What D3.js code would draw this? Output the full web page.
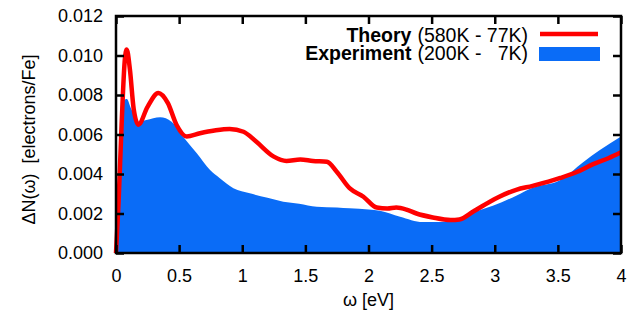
<!DOCTYPE html>
<html>
<head>
<meta charset="utf-8">
<script src="https://cdn.jsdelivr.net/npm/d3@7"></script>
<style>
  body { margin: 0; background: #fff; }
  svg text { font-family: "Liberation Sans", Arial, sans-serif; white-space: pre; }
</style>
</head>
<body>
<div id="chart"></div>
<script>
// Experiment (200K - 7K), filled area
const expX = [0, 0.01, 0.03, 0.06, 0.085, 0.12, 0.177, 0.24, 0.35, 0.44, 0.53, 0.64, 0.745, 0.82, 0.93, 1.06, 1.2, 1.325, 1.45, 1.59, 1.75, 1.85, 2.0, 2.09, 2.25, 2.43, 2.57, 2.72, 2.85, 2.99, 3.17, 3.3, 3.52, 3.7, 3.83, 4.0];
const expY = [0, 0.0015, 0.0050, 0.0077, 0.0078, 0.0073, 0.00665, 0.00673, 0.00687, 0.00665, 0.0059, 0.00505, 0.0042, 0.0038, 0.00328, 0.00302, 0.0028, 0.0026, 0.0025, 0.00234, 0.0023, 0.00226, 0.0022, 0.00214, 0.00184, 0.00157, 0.00157, 0.00177, 0.0021, 0.0024, 0.0029, 0.0033, 0.0037, 0.0046, 0.0052, 0.0059];

// Theory (580K - 77K), red line
const theoX = [0, 0.02, 0.045, 0.07, 0.085, 0.11, 0.14, 0.177, 0.25, 0.335, 0.41, 0.48, 0.56, 0.665, 0.78, 0.9, 1.01, 1.11, 1.25, 1.35, 1.46, 1.56, 1.67, 1.75, 1.85, 1.96, 2.065, 2.15, 2.22, 2.3, 2.38, 2.51, 2.65, 2.72, 2.83, 3.02, 3.17, 3.3, 3.52, 3.65, 3.78, 3.9, 4.0];
const theoY = [0, 0.0025, 0.0066, 0.0098, 0.0103, 0.0093, 0.0073, 0.0065, 0.0074, 0.0081, 0.0076, 0.00648, 0.0059, 0.00606, 0.0062, 0.00628, 0.00614, 0.00564, 0.00488, 0.00466, 0.00474, 0.00466, 0.00462, 0.0041, 0.00328, 0.00285, 0.0023, 0.00225, 0.0023, 0.0022, 0.002, 0.0018, 0.00167, 0.0017, 0.0021, 0.0028, 0.0032, 0.0034, 0.0038, 0.0041, 0.0045, 0.0048, 0.0051];

const xTicks = [0, 0.5, 1, 1.5, 2, 2.5, 3, 3.5, 4];
const yTicks = [0, 0.002, 0.004, 0.006, 0.008, 0.010, 0.012];

const legendRows = [
  { bold: 'Theory', rest: '(580K - 77K)' },
  { bold: 'Experiment', rest: '(200K -   7K)' },
];

const width = 638;
const height = 316;
const margin = { top: 16, right: 17, bottom: 63, left: 116 };
const blue = '#0a6cf7';
const red = '#ff0000';

const svg = d3.select('#chart')
  .append('svg')
  .attr('width', width)
  .attr('height', height);

const x = d3.scaleLinear().domain([0, 4]).range([margin.left, width - margin.right]);
const y = d3.scaleLinear().domain([0, 0.012]).range([height - margin.bottom, margin.top]);

const expData = expX.map((v, i) => [v, expY[i]]);
const theoData = theoX.map((v, i) => [v, theoY[i]]);

// experiment area
svg.append('path')
  .datum(expData)
  .attr('fill', blue)
  .attr('d', d3.area()
    .x(d => x(d[0]))
    .y0(y(0))
    .y1(d => y(d[1]))
    .curve(d3.curveMonotoneX));

// theory line
svg.append('path')
  .datum(theoData)
  .attr('fill', 'none')
  .attr('stroke', red)
  .attr('stroke-width', 4.5)
  .attr('stroke-linejoin', 'round')
  .attr('d', d3.line()
    .x(d => x(d[0]))
    .y(d => y(d[1]))
    .curve(d3.curveMonotoneX));

// axes, ticks pointing inward on all four sides
const tickLen = 8;
const styleAxis = g => {
  g.select('.domain').remove();
  g.selectAll('.tick line').attr('stroke', '#000').attr('stroke-width', 2.5);
  g.selectAll('.tick text').attr('fill', '#000').style('font-size', '18px')
    .style('font-family', '"Liberation Sans", Arial, sans-serif');
};

svg.append('g')
  .attr('transform', `translate(0,${y(0)})`)
  .call(d3.axisBottom(x).tickValues(xTicks).tickSizeInner(-tickLen).tickSizeOuter(0)
    .tickPadding(16).tickFormat(d3.format('')))
  .call(styleAxis);

svg.append('g')
  .attr('transform', `translate(0,${y(0.012)})`)
  .call(d3.axisTop(x).tickValues(xTicks).tickSizeInner(-tickLen).tickSizeOuter(0).tickFormat(''))
  .call(styleAxis);

svg.append('g')
  .attr('transform', `translate(${x(0)},0)`)
  .call(d3.axisLeft(y).tickValues(yTicks).tickSizeInner(-tickLen).tickSizeOuter(0)
    .tickPadding(13).tickFormat(d3.format('.3f')))
  .call(styleAxis);

svg.append('g')
  .attr('transform', `translate(${x(4)},0)`)
  .call(d3.axisRight(y).tickValues(yTicks).tickSizeInner(-tickLen).tickSizeOuter(0).tickFormat(''))
  .call(styleAxis);

// frame
svg.append('rect')
  .attr('x', x(0))
  .attr('y', y(0.012))
  .attr('width', x(4) - x(0))
  .attr('height', y(0) - y(0.012))
  .attr('fill', 'none')
  .attr('stroke', '#000')
  .attr('stroke-width', 2.5);

// axis titles
svg.append('text')
  .attr('x', (x(0) + x(4)) / 2)
  .attr('y', 306)
  .attr('text-anchor', 'middle')
  .style('font-size', '18px')
  .text('ω [eV]');

svg.append('text')
  .attr('transform', `translate(35, ${(y(0) + y(0.012)) / 2 + 5}) rotate(-90)`)
  .attr('text-anchor', 'middle')
  .style('font-size', '18px')
  .text('ΔN(ω)  [electrons/Fe]');

// legend: normal part right-aligned, bold label placed just left of it
const legend = svg.selectAll('.legend')
  .data(legendRows)
  .enter()
  .append('g')
  .attr('class', 'legend')
  .attr('transform', (d, i) => `translate(528, ${42 + i * 18})`);

legend.each(function (d) {
  const g = d3.select(this);
  const rest = g.append('text')
    .attr('text-anchor', 'end')
    .style('font-size', '19.5px')
    .text(d.rest);
  const w = rest.node().getComputedTextLength();
  g.append('text')
    .attr('x', -w - 6)
    .attr('text-anchor', 'end')
    .style('font-size', '19.5px')
    .style('font-weight', 'bold')
    .text(d.bold);
});

legend.filter((d, i) => i === 0).append('line')
  .attr('x1', 12).attr('x2', 70)
  .attr('y1', -8).attr('y2', -8)
  .attr('stroke', red)
  .attr('stroke-width', 4.5);

legend.filter((d, i) => i === 1).append('rect')
  .attr('x', 11).attr('y', -13)
  .attr('width', 61).attr('height', 14)
  .attr('fill', blue);
</script>
</body>
</html>
